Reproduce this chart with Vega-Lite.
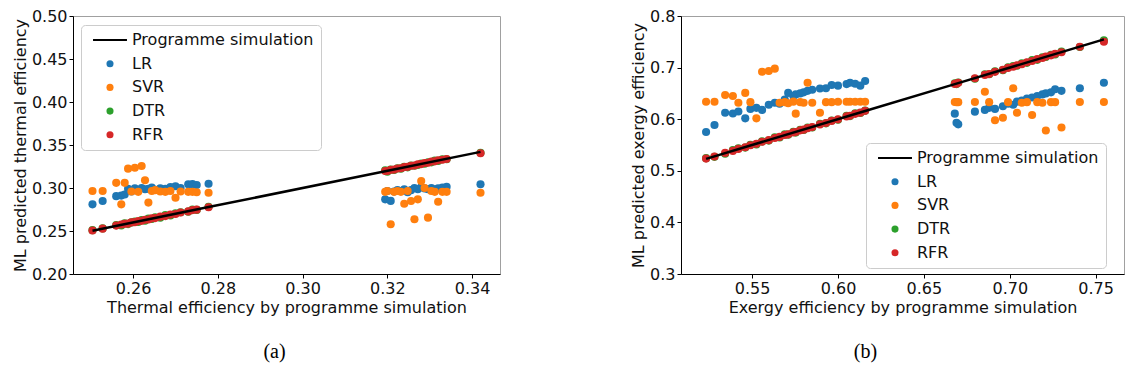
{
"$schema": "https://vega.github.io/schema/vega-lite/v6.json",
"padding": {"left": 11, "top": 7, "right": 0, "bottom": 0},
"background": "white",
"datasets": {
"thermal": [
{"sim":0.2504,"pred":0.2810,"model":"LR"},{"sim":0.2528,"pred":0.2849,"model":"LR"},{"sim":0.2560,"pred":0.2905,"model":"LR"},{"sim":0.2572,"pred":0.2912,"model":"LR"},{"sim":0.2580,"pred":0.2925,"model":"LR"},{"sim":0.2588,"pred":0.2990,"model":"LR"},{"sim":0.2596,"pred":0.2960,"model":"LR"},{"sim":0.2604,"pred":0.2995,"model":"LR"},{"sim":0.2612,"pred":0.2975,"model":"LR"},{"sim":0.2620,"pred":0.3000,"model":"LR"},{"sim":0.2628,"pred":0.2985,"model":"LR"},{"sim":0.2636,"pred":0.2990,"model":"LR"},{"sim":0.2644,"pred":0.3005,"model":"LR"},{"sim":0.2652,"pred":0.2980,"model":"LR"},{"sim":0.2664,"pred":0.2995,"model":"LR"},{"sim":0.2676,"pred":0.2990,"model":"LR"},{"sim":0.2688,"pred":0.3010,"model":"LR"},{"sim":0.2700,"pred":0.3020,"model":"LR"},{"sim":0.2712,"pred":0.3000,"model":"LR"},{"sim":0.2730,"pred":0.3043,"model":"LR"},{"sim":0.2740,"pred":0.3045,"model":"LR"},{"sim":0.2750,"pred":0.3035,"model":"LR"},{"sim":0.2778,"pred":0.3050,"model":"LR"},
{"sim":0.3195,"pred":0.2868,"model":"LR"},{"sim":0.3200,"pred":0.2965,"model":"LR"},{"sim":0.3208,"pred":0.2850,"model":"LR"},{"sim":0.3216,"pred":0.2960,"model":"LR"},{"sim":0.3224,"pred":0.2975,"model":"LR"},{"sim":0.3232,"pred":0.2965,"model":"LR"},{"sim":0.3240,"pred":0.2985,"model":"LR"},{"sim":0.3248,"pred":0.2950,"model":"LR"},{"sim":0.3256,"pred":0.2975,"model":"LR"},{"sim":0.3264,"pred":0.3000,"model":"LR"},{"sim":0.3272,"pred":0.2985,"model":"LR"},{"sim":0.3280,"pred":0.3010,"model":"LR"},{"sim":0.3288,"pred":0.2995,"model":"LR"},{"sim":0.3296,"pred":0.2985,"model":"LR"},{"sim":0.3304,"pred":0.3000,"model":"LR"},{"sim":0.3312,"pred":0.2985,"model":"LR"},{"sim":0.3320,"pred":0.2995,"model":"LR"},{"sim":0.3330,"pred":0.3005,"model":"LR"},{"sim":0.3340,"pred":0.3015,"model":"LR"},{"sim":0.3420,"pred":0.3043,"model":"LR"},
{"sim":0.2504,"pred":0.2965,"model":"SVR"},{"sim":0.2528,"pred":0.2965,"model":"SVR"},{"sim":0.2560,"pred":0.3060,"model":"SVR"},{"sim":0.2572,"pred":0.2810,"model":"SVR"},{"sim":0.2580,"pred":0.3060,"model":"SVR"},{"sim":0.2588,"pred":0.3225,"model":"SVR"},{"sim":0.2596,"pred":0.2960,"model":"SVR"},{"sim":0.2604,"pred":0.3236,"model":"SVR"},{"sim":0.2612,"pred":0.2955,"model":"SVR"},{"sim":0.2620,"pred":0.3256,"model":"SVR"},{"sim":0.2628,"pred":0.3090,"model":"SVR"},{"sim":0.2636,"pred":0.2830,"model":"SVR"},{"sim":0.2644,"pred":0.2965,"model":"SVR"},{"sim":0.2652,"pred":0.2975,"model":"SVR"},{"sim":0.2664,"pred":0.2960,"model":"SVR"},{"sim":0.2676,"pred":0.2955,"model":"SVR"},{"sim":0.2688,"pred":0.2965,"model":"SVR"},{"sim":0.2700,"pred":0.2887,"model":"SVR"},{"sim":0.2712,"pred":0.2960,"model":"SVR"},{"sim":0.2730,"pred":0.2955,"model":"SVR"},{"sim":0.2740,"pred":0.2955,"model":"SVR"},{"sim":0.2750,"pred":0.2950,"model":"SVR"},{"sim":0.2778,"pred":0.2945,"model":"SVR"},
{"sim":0.3195,"pred":0.2955,"model":"SVR"},{"sim":0.3200,"pred":0.2965,"model":"SVR"},{"sim":0.3208,"pred":0.2578,"model":"SVR"},{"sim":0.3216,"pred":0.2955,"model":"SVR"},{"sim":0.3224,"pred":0.2965,"model":"SVR"},{"sim":0.3232,"pred":0.2955,"model":"SVR"},{"sim":0.3240,"pred":0.2817,"model":"SVR"},{"sim":0.3248,"pred":0.2965,"model":"SVR"},{"sim":0.3256,"pred":0.2849,"model":"SVR"},{"sim":0.3264,"pred":0.2636,"model":"SVR"},{"sim":0.3272,"pred":0.2868,"model":"SVR"},{"sim":0.3280,"pred":0.3080,"model":"SVR"},{"sim":0.3288,"pred":0.3000,"model":"SVR"},{"sim":0.3296,"pred":0.2655,"model":"SVR"},{"sim":0.3304,"pred":0.2965,"model":"SVR"},{"sim":0.3312,"pred":0.2955,"model":"SVR"},{"sim":0.3320,"pred":0.2840,"model":"SVR"},{"sim":0.3330,"pred":0.2955,"model":"SVR"},{"sim":0.3340,"pred":0.2955,"model":"SVR"},{"sim":0.3420,"pred":0.2945,"model":"SVR"},
{"sim":0.2504,"pred":0.2510,"model":"DTR"},{"sim":0.2528,"pred":0.2530,"model":"DTR"},{"sim":0.2560,"pred":0.2568,"model":"DTR"},{"sim":0.2572,"pred":0.2565,"model":"DTR"},{"sim":0.2580,"pred":0.2590,"model":"DTR"},{"sim":0.2588,"pred":0.2580,"model":"DTR"},{"sim":0.2596,"pred":0.2600,"model":"DTR"},{"sim":0.2604,"pred":0.2610,"model":"DTR"},{"sim":0.2612,"pred":0.2605,"model":"DTR"},{"sim":0.2620,"pred":0.2628,"model":"DTR"},{"sim":0.2628,"pred":0.2620,"model":"DTR"},{"sim":0.2636,"pred":0.2645,"model":"DTR"},{"sim":0.2644,"pred":0.2640,"model":"DTR"},{"sim":0.2652,"pred":0.2660,"model":"DTR"},{"sim":0.2664,"pred":0.2655,"model":"DTR"},{"sim":0.2676,"pred":0.2685,"model":"DTR"},{"sim":0.2688,"pred":0.2680,"model":"DTR"},{"sim":0.2700,"pred":0.2705,"model":"DTR"},{"sim":0.2712,"pred":0.2718,"model":"DTR"},{"sim":0.2730,"pred":0.2725,"model":"DTR"},{"sim":0.2740,"pred":0.2748,"model":"DTR"},{"sim":0.2750,"pred":0.2745,"model":"DTR"},{"sim":0.2778,"pred":0.2782,"model":"DTR"},
{"sim":0.3195,"pred":0.3205,"model":"DTR"},{"sim":0.3200,"pred":0.3190,"model":"DTR"},{"sim":0.3208,"pred":0.3215,"model":"DTR"},{"sim":0.3216,"pred":0.3210,"model":"DTR"},{"sim":0.3224,"pred":0.3230,"model":"DTR"},{"sim":0.3232,"pred":0.3225,"model":"DTR"},{"sim":0.3240,"pred":0.3245,"model":"DTR"},{"sim":0.3248,"pred":0.3240,"model":"DTR"},{"sim":0.3256,"pred":0.3262,"model":"DTR"},{"sim":0.3264,"pred":0.3258,"model":"DTR"},{"sim":0.3272,"pred":0.3268,"model":"DTR"},{"sim":0.3280,"pred":0.3285,"model":"DTR"},{"sim":0.3288,"pred":0.3282,"model":"DTR"},{"sim":0.3296,"pred":0.3300,"model":"DTR"},{"sim":0.3304,"pred":0.3298,"model":"DTR"},{"sim":0.3312,"pred":0.3318,"model":"DTR"},{"sim":0.3320,"pred":0.3315,"model":"DTR"},{"sim":0.3330,"pred":0.3335,"model":"DTR"},{"sim":0.3340,"pred":0.3335,"model":"DTR"},{"sim":0.3420,"pred":0.3410,"model":"DTR"},
{"sim":0.2504,"pred":0.2506,"model":"RFR"},{"sim":0.2528,"pred":0.2527,"model":"RFR"},{"sim":0.2560,"pred":0.2563,"model":"RFR"},{"sim":0.2572,"pred":0.2575,"model":"RFR"},{"sim":0.2580,"pred":0.2583,"model":"RFR"},{"sim":0.2588,"pred":0.2586,"model":"RFR"},{"sim":0.2596,"pred":0.2600,"model":"RFR"},{"sim":0.2604,"pred":0.2603,"model":"RFR"},{"sim":0.2612,"pred":0.2615,"model":"RFR"},{"sim":0.2620,"pred":0.2618,"model":"RFR"},{"sim":0.2628,"pred":0.2631,"model":"RFR"},{"sim":0.2636,"pred":0.2634,"model":"RFR"},{"sim":0.2644,"pred":0.2647,"model":"RFR"},{"sim":0.2652,"pred":0.2650,"model":"RFR"},{"sim":0.2664,"pred":0.2667,"model":"RFR"},{"sim":0.2676,"pred":0.2673,"model":"RFR"},{"sim":0.2688,"pred":0.2691,"model":"RFR"},{"sim":0.2700,"pred":0.2698,"model":"RFR"},{"sim":0.2712,"pred":0.2715,"model":"RFR"},{"sim":0.2730,"pred":0.2728,"model":"RFR"},{"sim":0.2740,"pred":0.2743,"model":"RFR"},{"sim":0.2750,"pred":0.2748,"model":"RFR"},{"sim":0.2778,"pred":0.2776,"model":"RFR"},
{"sim":0.3195,"pred":0.3198,"model":"RFR"},{"sim":0.3200,"pred":0.3197,"model":"RFR"},{"sim":0.3208,"pred":0.3211,"model":"RFR"},{"sim":0.3216,"pred":0.3214,"model":"RFR"},{"sim":0.3224,"pred":0.3227,"model":"RFR"},{"sim":0.3232,"pred":0.3230,"model":"RFR"},{"sim":0.3240,"pred":0.3243,"model":"RFR"},{"sim":0.3248,"pred":0.3246,"model":"RFR"},{"sim":0.3256,"pred":0.3259,"model":"RFR"},{"sim":0.3264,"pred":0.3262,"model":"RFR"},{"sim":0.3272,"pred":0.3275,"model":"RFR"},{"sim":0.3280,"pred":0.3278,"model":"RFR"},{"sim":0.3288,"pred":0.3291,"model":"RFR"},{"sim":0.3296,"pred":0.3294,"model":"RFR"},{"sim":0.3304,"pred":0.3307,"model":"RFR"},{"sim":0.3312,"pred":0.3310,"model":"RFR"},{"sim":0.3320,"pred":0.3323,"model":"RFR"},{"sim":0.3330,"pred":0.3328,"model":"RFR"},{"sim":0.3340,"pred":0.3337,"model":"RFR"},{"sim":0.3420,"pred":0.3404,"model":"RFR"},
{"sim":0.2504,"pred":0.2504,"model":"Programme simulation"},{"sim":0.2778,"pred":0.2778,"model":"Programme simulation"},{"sim":0.3195,"pred":0.3195,"model":"Programme simulation"},{"sim":0.3420,"pred":0.3420,"model":"Programme simulation"}
],
"exergy": [
{"sim":0.5232,"pred":0.5752,"model":"LR"},{"sim":0.5281,"pred":0.5888,"model":"LR"},{"sim":0.5343,"pred":0.6126,"model":"LR"},{"sim":0.5388,"pred":0.6110,"model":"LR"},{"sim":0.5420,"pred":0.6150,"model":"LR"},{"sim":0.5460,"pred":0.6017,"model":"LR"},{"sim":0.5490,"pred":0.6200,"model":"LR"},{"sim":0.5525,"pred":0.6220,"model":"LR"},{"sim":0.5558,"pred":0.6180,"model":"LR"},{"sim":0.5597,"pred":0.6280,"model":"LR"},{"sim":0.5632,"pred":0.6320,"model":"LR"},{"sim":0.5660,"pred":0.6300,"model":"LR"},{"sim":0.5690,"pred":0.6380,"model":"LR"},{"sim":0.5710,"pred":0.6510,"model":"LR"},{"sim":0.5740,"pred":0.6450,"model":"LR"},{"sim":0.5754,"pred":0.6480,"model":"LR"},{"sim":0.5780,"pred":0.6500,"model":"LR"},{"sim":0.5800,"pred":0.6520,"model":"LR"},{"sim":0.5823,"pred":0.6550,"model":"LR"},{"sim":0.5850,"pred":0.6570,"model":"LR"},{"sim":0.5895,"pred":0.6596,"model":"LR"},{"sim":0.5930,"pred":0.6600,"model":"LR"},{"sim":0.5963,"pred":0.6663,"model":"LR"},{"sim":0.6000,"pred":0.6650,"model":"LR"},{"sim":0.6050,"pred":0.6680,"model":"LR"},{"sim":0.6070,"pred":0.6707,"model":"LR"},{"sim":0.6100,"pred":0.6688,"model":"LR"},{"sim":0.6130,"pred":0.6650,"model":"LR"},{"sim":0.6158,"pred":0.6740,"model":"LR"},
{"sim":0.6680,"pred":0.6107,"model":"LR"},{"sim":0.6690,"pred":0.5932,"model":"LR"},{"sim":0.6700,"pred":0.5900,"model":"LR"},{"sim":0.6797,"pred":0.6146,"model":"LR"},{"sim":0.6855,"pred":0.6180,"model":"LR"},{"sim":0.6880,"pred":0.6220,"model":"LR"},{"sim":0.6914,"pred":0.6200,"model":"LR"},{"sim":0.6960,"pred":0.6250,"model":"LR"},{"sim":0.6990,"pred":0.6300,"model":"LR"},{"sim":0.7020,"pred":0.6280,"model":"LR"},{"sim":0.7042,"pred":0.6340,"model":"LR"},{"sim":0.7070,"pred":0.6360,"model":"LR"},{"sim":0.7100,"pred":0.6400,"model":"LR"},{"sim":0.7130,"pred":0.6420,"model":"LR"},{"sim":0.7160,"pred":0.6450,"model":"LR"},{"sim":0.7190,"pred":0.6480,"model":"LR"},{"sim":0.7210,"pred":0.6500,"model":"LR"},{"sim":0.7240,"pred":0.6520,"model":"LR"},{"sim":0.7264,"pred":0.6580,"model":"LR"},{"sim":0.7301,"pred":0.6550,"model":"LR"},{"sim":0.7408,"pred":0.6600,"model":"LR"},{"sim":0.7548,"pred":0.6707,"model":"LR"},
{"sim":0.5232,"pred":0.6339,"model":"SVR"},{"sim":0.5281,"pred":0.6339,"model":"SVR"},{"sim":0.5343,"pred":0.6470,"model":"SVR"},{"sim":0.5388,"pred":0.6450,"model":"SVR"},{"sim":0.5420,"pred":0.6320,"model":"SVR"},{"sim":0.5460,"pred":0.6510,"model":"SVR"},{"sim":0.5490,"pred":0.6330,"model":"SVR"},{"sim":0.5525,"pred":0.6017,"model":"SVR"},{"sim":0.5558,"pred":0.6920,"model":"SVR"},{"sim":0.5597,"pred":0.6934,"model":"SVR"},{"sim":0.5632,"pred":0.6979,"model":"SVR"},{"sim":0.5660,"pred":0.6320,"model":"SVR"},{"sim":0.5690,"pred":0.6330,"model":"SVR"},{"sim":0.5710,"pred":0.6310,"model":"SVR"},{"sim":0.5740,"pred":0.6340,"model":"SVR"},{"sim":0.5754,"pred":0.6107,"model":"SVR"},{"sim":0.5780,"pred":0.6330,"model":"SVR"},{"sim":0.5800,"pred":0.6320,"model":"SVR"},{"sim":0.5823,"pred":0.6707,"model":"SVR"},{"sim":0.5850,"pred":0.6320,"model":"SVR"},{"sim":0.5895,"pred":0.6126,"model":"SVR"},{"sim":0.5930,"pred":0.6330,"model":"SVR"},{"sim":0.5963,"pred":0.6330,"model":"SVR"},{"sim":0.6000,"pred":0.6339,"model":"SVR"},{"sim":0.6050,"pred":0.6339,"model":"SVR"},{"sim":0.6070,"pred":0.6339,"model":"SVR"},{"sim":0.6100,"pred":0.6339,"model":"SVR"},{"sim":0.6130,"pred":0.6339,"model":"SVR"},{"sim":0.6158,"pred":0.6339,"model":"SVR"},
{"sim":0.6680,"pred":0.6333,"model":"SVR"},{"sim":0.6690,"pred":0.6330,"model":"SVR"},{"sim":0.6700,"pred":0.6330,"model":"SVR"},{"sim":0.6797,"pred":0.6333,"model":"SVR"},{"sim":0.6855,"pred":0.6533,"model":"SVR"},{"sim":0.6880,"pred":0.6330,"model":"SVR"},{"sim":0.6914,"pred":0.5979,"model":"SVR"},{"sim":0.6960,"pred":0.6029,"model":"SVR"},{"sim":0.6990,"pred":0.6330,"model":"SVR"},{"sim":0.7020,"pred":0.6600,"model":"SVR"},{"sim":0.7042,"pred":0.6126,"model":"SVR"},{"sim":0.7070,"pred":0.6320,"model":"SVR"},{"sim":0.7100,"pred":0.6330,"model":"SVR"},{"sim":0.7130,"pred":0.6081,"model":"SVR"},{"sim":0.7160,"pred":0.6330,"model":"SVR"},{"sim":0.7190,"pred":0.6320,"model":"SVR"},{"sim":0.7210,"pred":0.5780,"model":"SVR"},{"sim":0.7240,"pred":0.6330,"model":"SVR"},{"sim":0.7264,"pred":0.6330,"model":"SVR"},{"sim":0.7301,"pred":0.5840,"model":"SVR"},{"sim":0.7408,"pred":0.6333,"model":"SVR"},{"sim":0.7548,"pred":0.6333,"model":"SVR"},
{"sim":0.5232,"pred":0.5245,"model":"DTR"},{"sim":0.5281,"pred":0.5270,"model":"DTR"},{"sim":0.5343,"pred":0.5330,"model":"DTR"},{"sim":0.5388,"pred":0.5400,"model":"DTR"},{"sim":0.5420,"pred":0.5435,"model":"DTR"},{"sim":0.5460,"pred":0.5450,"model":"DTR"},{"sim":0.5490,"pred":0.5505,"model":"DTR"},{"sim":0.5525,"pred":0.5510,"model":"DTR"},{"sim":0.5558,"pred":0.5570,"model":"DTR"},{"sim":0.5597,"pred":0.5585,"model":"DTR"},{"sim":0.5632,"pred":0.5650,"model":"DTR"},{"sim":0.5660,"pred":0.5645,"model":"DTR"},{"sim":0.5690,"pred":0.5705,"model":"DTR"},{"sim":0.5710,"pred":0.5700,"model":"DTR"},{"sim":0.5740,"pred":0.5755,"model":"DTR"},{"sim":0.5754,"pred":0.5740,"model":"DTR"},{"sim":0.5780,"pred":0.5795,"model":"DTR"},{"sim":0.5800,"pred":0.5790,"model":"DTR"},{"sim":0.5823,"pred":0.5840,"model":"DTR"},{"sim":0.5850,"pred":0.5838,"model":"DTR"},{"sim":0.5895,"pred":0.5910,"model":"DTR"},{"sim":0.5930,"pred":0.5920,"model":"DTR"},{"sim":0.5963,"pred":0.5975,"model":"DTR"},{"sim":0.6000,"pred":0.5990,"model":"DTR"},{"sim":0.6050,"pred":0.6065,"model":"DTR"},{"sim":0.6070,"pred":0.6060,"model":"DTR"},{"sim":0.6100,"pred":0.6115,"model":"DTR"},{"sim":0.6130,"pred":0.6120,"model":"DTR"},{"sim":0.6158,"pred":0.6165,"model":"DTR"},
{"sim":0.6680,"pred":0.6695,"model":"DTR"},{"sim":0.6690,"pred":0.6680,"model":"DTR"},{"sim":0.6700,"pred":0.6712,"model":"DTR"},{"sim":0.6797,"pred":0.6785,"model":"DTR"},{"sim":0.6855,"pred":0.6870,"model":"DTR"},{"sim":0.6880,"pred":0.6872,"model":"DTR"},{"sim":0.6914,"pred":0.6928,"model":"DTR"},{"sim":0.6960,"pred":0.6950,"model":"DTR"},{"sim":0.6990,"pred":0.7005,"model":"DTR"},{"sim":0.7020,"pred":0.7030,"model":"DTR"},{"sim":0.7042,"pred":0.7035,"model":"DTR"},{"sim":0.7070,"pred":0.7085,"model":"DTR"},{"sim":0.7100,"pred":0.7092,"model":"DTR"},{"sim":0.7130,"pred":0.7145,"model":"DTR"},{"sim":0.7160,"pred":0.7150,"model":"DTR"},{"sim":0.7190,"pred":0.7200,"model":"DTR"},{"sim":0.7210,"pred":0.7205,"model":"DTR"},{"sim":0.7240,"pred":0.7250,"model":"DTR"},{"sim":0.7264,"pred":0.7255,"model":"DTR"},{"sim":0.7301,"pred":0.7310,"model":"DTR"},{"sim":0.7408,"pred":0.7400,"model":"DTR"},{"sim":0.7548,"pred":0.7530,"model":"DTR"},
{"sim":0.5232,"pred":0.5236,"model":"RFR"},{"sim":0.5281,"pred":0.5278,"model":"RFR"},{"sim":0.5343,"pred":0.5347,"model":"RFR"},{"sim":0.5388,"pred":0.5385,"model":"RFR"},{"sim":0.5420,"pred":0.5424,"model":"RFR"},{"sim":0.5460,"pred":0.5457,"model":"RFR"},{"sim":0.5490,"pred":0.5494,"model":"RFR"},{"sim":0.5525,"pred":0.5522,"model":"RFR"},{"sim":0.5558,"pred":0.5562,"model":"RFR"},{"sim":0.5597,"pred":0.5594,"model":"RFR"},{"sim":0.5632,"pred":0.5636,"model":"RFR"},{"sim":0.5660,"pred":0.5657,"model":"RFR"},{"sim":0.5690,"pred":0.5694,"model":"RFR"},{"sim":0.5710,"pred":0.5707,"model":"RFR"},{"sim":0.5740,"pred":0.5744,"model":"RFR"},{"sim":0.5754,"pred":0.5751,"model":"RFR"},{"sim":0.5780,"pred":0.5784,"model":"RFR"},{"sim":0.5800,"pred":0.5797,"model":"RFR"},{"sim":0.5823,"pred":0.5827,"model":"RFR"},{"sim":0.5850,"pred":0.5847,"model":"RFR"},{"sim":0.5895,"pred":0.5899,"model":"RFR"},{"sim":0.5930,"pred":0.5927,"model":"RFR"},{"sim":0.5963,"pred":0.5967,"model":"RFR"},{"sim":0.6000,"pred":0.5997,"model":"RFR"},{"sim":0.6050,"pred":0.6054,"model":"RFR"},{"sim":0.6070,"pred":0.6067,"model":"RFR"},{"sim":0.6100,"pred":0.6104,"model":"RFR"},{"sim":0.6130,"pred":0.6127,"model":"RFR"},{"sim":0.6158,"pred":0.6162,"model":"RFR"},
{"sim":0.6680,"pred":0.6684,"model":"RFR"},{"sim":0.6690,"pred":0.6687,"model":"RFR"},{"sim":0.6700,"pred":0.6704,"model":"RFR"},{"sim":0.6797,"pred":0.6794,"model":"RFR"},{"sim":0.6855,"pred":0.6859,"model":"RFR"},{"sim":0.6880,"pred":0.6877,"model":"RFR"},{"sim":0.6914,"pred":0.6918,"model":"RFR"},{"sim":0.6960,"pred":0.6957,"model":"RFR"},{"sim":0.6990,"pred":0.6994,"model":"RFR"},{"sim":0.7020,"pred":0.7017,"model":"RFR"},{"sim":0.7042,"pred":0.7046,"model":"RFR"},{"sim":0.7070,"pred":0.7067,"model":"RFR"},{"sim":0.7100,"pred":0.7104,"model":"RFR"},{"sim":0.7130,"pred":0.7127,"model":"RFR"},{"sim":0.7160,"pred":0.7164,"model":"RFR"},{"sim":0.7190,"pred":0.7187,"model":"RFR"},{"sim":0.7210,"pred":0.7214,"model":"RFR"},{"sim":0.7240,"pred":0.7237,"model":"RFR"},{"sim":0.7264,"pred":0.7268,"model":"RFR"},{"sim":0.7301,"pred":0.7298,"model":"RFR"},{"sim":0.7408,"pred":0.7404,"model":"RFR"},{"sim":0.7548,"pred":0.7500,"model":"RFR"},
{"sim":0.5232,"pred":0.5232,"model":"Programme simulation"},{"sim":0.6158,"pred":0.6158,"model":"Programme simulation"},{"sim":0.6680,"pred":0.6680,"model":"Programme simulation"},{"sim":0.7548,"pred":0.7548,"model":"Programme simulation"}
]
},
"hconcat": [
{
"width": 427, "height": 258,
"data": {"name": "thermal"},
"title": {"text": "(a)", "orient": "bottom", "font": "Liberation Serif", "fontSize": 20, "fontWeight": "normal", "color": "#000", "offset": 27, "dx": -12},
"layer": [
{
"transform": [{"filter": "datum.model != 'Programme simulation'"}],
"mark": {"type": "point", "filled": true, "opacity": 1, "size": 66},
"encoding": {
"x": {"field": "sim", "type": "quantitative", "scale": {"domain": [0.2458, 0.3466], "nice": false, "zero": false}, "axis": {"values": [0.26, 0.28, 0.30, 0.32, 0.34], "format": ".2f", "title": "Thermal efficiency by programme simulation"}},
"y": {"field": "pred", "type": "quantitative", "scale": {"domain": [0.2, 0.5], "nice": false, "zero": false}, "axis": {"values": [0.2, 0.25, 0.3, 0.35, 0.4, 0.45, 0.5], "format": ".2f", "title": "ML predicted thermal efficiency"}},
"color": {"field": "model", "type": "nominal", "scale": {"domain": ["Programme simulation", "LR", "SVR", "DTR", "RFR"], "range": ["#000000", "#1f77b4", "#ff7f0e", "#2ca02c", "#d62728"]}, "legend": {"orient": "none", "legendX": 8, "legendY": 9, "title": null, "direction": "vertical"}},
"shape": {"field": "model", "type": "nominal", "scale": {"domain": ["Programme simulation", "LR", "SVR", "DTR", "RFR"], "range": ["M-4.8,-0.28H4.8V0.28H-4.8Z", "circle", "circle", "circle", "circle"]}, "legend": {"orient": "none", "legendX": 8, "legendY": 9, "title": null, "direction": "vertical"}}
}
},
{
"transform": [{"filter": "datum.model == 'Programme simulation'"}],
"mark": {"type": "line", "color": "#000000", "strokeWidth": 2.5},
"encoding": {
"x": {"field": "sim", "type": "quantitative"},
"y": {"field": "pred", "type": "quantitative"}
}
}
]
},
{
"width": 443, "height": 258,
"data": {"name": "exergy"},
"title": {"text": "(b)", "orient": "bottom", "font": "Liberation Serif", "fontSize": 20, "fontWeight": "normal", "color": "#000", "offset": 27, "dx": -37},
"layer": [
{
"transform": [{"filter": "datum.model != 'Programme simulation'"}],
"mark": {"type": "point", "filled": true, "opacity": 1, "size": 66},
"encoding": {
"x": {"field": "sim", "type": "quantitative", "scale": {"domain": [0.5086, 0.7665], "nice": false, "zero": false}, "axis": {"values": [0.55, 0.6, 0.65, 0.7, 0.75], "format": ".2f", "title": "Exergy efficiency by programme simulation"}},
"y": {"field": "pred", "type": "quantitative", "scale": {"domain": [0.3, 0.8], "nice": false, "zero": false}, "axis": {"values": [0.3, 0.4, 0.5, 0.6, 0.7, 0.8], "format": ".1f", "title": "ML predicted exergy efficiency"}},
"color": {"field": "model", "type": "nominal", "scale": {"domain": ["Programme simulation", "LR", "SVR", "DTR", "RFR"], "range": ["#000000", "#1f77b4", "#ff7f0e", "#2ca02c", "#d62728"]}, "legend": {"orient": "none", "legendX": 185, "legendY": 127, "title": null, "direction": "vertical"}},
"shape": {"field": "model", "type": "nominal", "scale": {"domain": ["Programme simulation", "LR", "SVR", "DTR", "RFR"], "range": ["M-4.8,-0.28H4.8V0.28H-4.8Z", "circle", "circle", "circle", "circle"]}, "legend": {"orient": "none", "legendX": 185, "legendY": 127, "title": null, "direction": "vertical"}}
}
},
{
"transform": [{"filter": "datum.model == 'Programme simulation'"}],
"mark": {"type": "line", "color": "#000000", "strokeWidth": 2.5},
"encoding": {
"x": {"field": "sim", "type": "quantitative"},
"y": {"field": "pred", "type": "quantitative"}
}
}
]
}
],
"resolve": {"scale": {"x": "independent", "y": "independent", "color": "independent", "shape": "independent"}, "legend": {"color": "independent", "shape": "independent"}},
"config": {
"font": "DejaVu Sans",
"concat": {"spacing": 129},
"view": {"stroke": "#a0a0a0", "strokeWidth": 1},
"axis": {"grid": false, "domainColor": "#000000", "domainWidth": 1, "tickColor": "#000000", "tickSize": 4, "labelFontSize": 16, "titleFontSize": 16, "titleFontWeight": "normal", "labelColor": "#111111", "titleColor": "#111111", "labelPadding": 2, "titlePadding": 3, "labelFont": "DejaVu Sans", "titleFont": "DejaVu Sans"},
"legend": {"labelFontSize": 16, "labelFont": "DejaVu Sans", "labelColor": "#111111", "labelLimit": 400, "symbolSize": 50, "symbolOffset": 14, "labelOffset": 14, "rowPadding": 7.7, "padding": 7, "strokeColor": "#cccccc", "fillColor": "rgba(255,255,255,0.85)", "cornerRadius": 4, "symbolStrokeWidth": 0}
}
}
